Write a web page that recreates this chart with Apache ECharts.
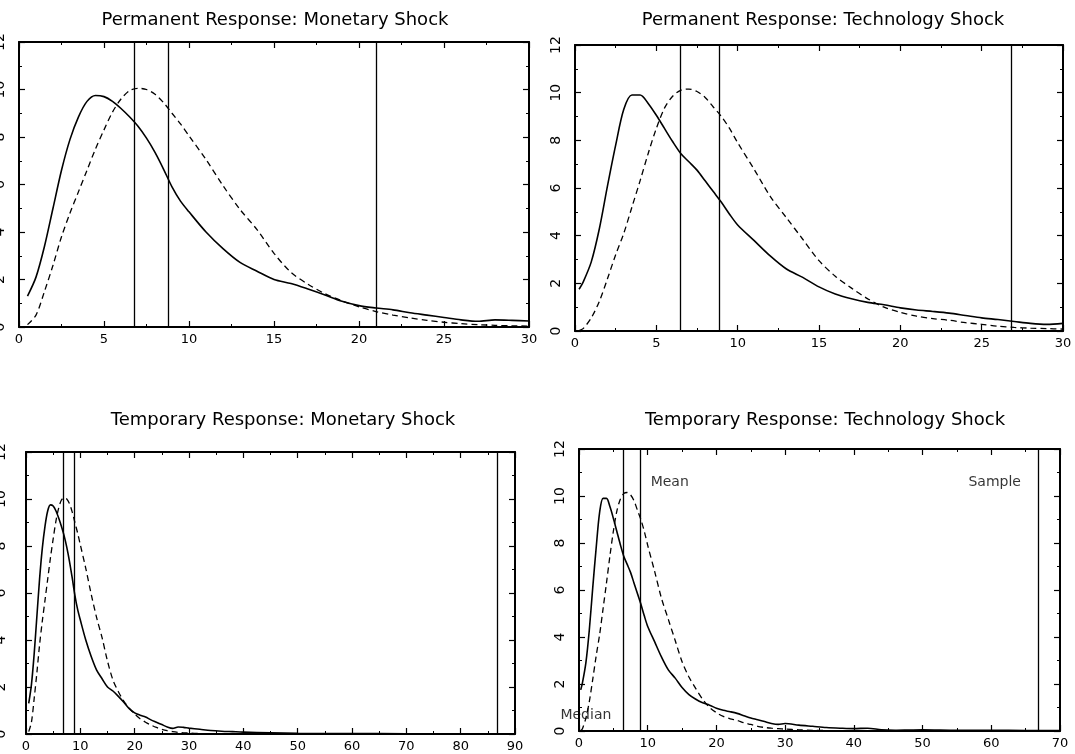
<!DOCTYPE html>
<html>
<head>
<meta charset="utf-8">
<script src="https://cdn.jsdelivr.net/npm/echarts@6/dist/echarts.min.js"></script>
<style>html,body{margin:0;padding:0;background:#fff}#main{width:1075px;height:754px}</style>
</head>
<body>
<div id="main"></div>
<script>
// monetary shock (panels 1 and 3)
var monX = [0.5, 1, 1.5, 2, 2.5, 3, 3.5, 4, 4.5, 5, 5.5, 6, 6.5, 7, 7.5, 8, 8.5, 9, 9.5, 10,
  11, 12, 13, 14, 15, 16, 17, 18, 19, 20, 21, 22, 23, 24, 25, 26, 27, 28, 29, 30];
var monSolid = [1.3, 2.1, 3.4, 5.0, 6.6, 7.9, 8.85, 9.5, 9.75, 9.7, 9.5, 9.2, 8.85, 8.45, 7.95, 7.35, 6.65, 5.9, 5.3, 4.85,
  4.0, 3.3, 2.72, 2.35, 2.0, 1.83, 1.6, 1.35, 1.08, 0.9, 0.8, 0.72, 0.6, 0.5, 0.4, 0.3, 0.24, 0.3, 0.28, 0.25];
var monDash = [0.1, 0.5, 1.5, 2.6, 3.8, 4.8, 5.7, 6.6, 7.5, 8.3, 9.05, 9.6, 9.95, 10.05, 10.0, 9.8, 9.45, 9.0, 8.55, 8.05,
  7.05, 5.95, 4.95, 4.1, 3.1, 2.3, 1.8, 1.4, 1.1, 0.85, 0.65, 0.5, 0.38, 0.28, 0.2, 0.14, 0.1, 0.07, 0.05, 0.04];
var monTailX = [32, 34, 36, 38, 40, 45, 50, 60, 70, 80, 90];
var monTailSolid = [0.2, 0.15, 0.12, 0.1, 0.08, 0.05, 0.03, 0.02, 0.01, 0.01, 0.0];
var monTailDash = [0.02, 0.01, 0.01, 0.0, 0.0, 0.0, 0.0, 0.0, 0.0, 0.0, 0.0];
var monLines = [6.8, 8.8];

// technology shock (panels 2 and 4)
var techX = [0.25, 0.5, 1, 1.5, 2, 2.5, 3, 3.5, 4, 4.5, 5, 5.5, 6, 6.5, 7, 7.5, 8, 8.5, 9, 9.5, 10,
  11, 12, 13, 14, 15, 16, 17, 18, 19, 20, 21, 22, 23, 24, 25, 26, 27, 28, 29, 30];
var techSolid = [1.75, 2.05, 2.9, 4.3, 6.1, 7.8, 9.3, 9.9, 9.9, 9.55, 9.05, 8.5, 7.95, 7.45, 7.1, 6.75, 6.3, 5.85, 5.4, 4.9, 4.45,
  3.8, 3.15, 2.6, 2.25, 1.85, 1.55, 1.35, 1.2, 1.1, 0.97, 0.88, 0.82, 0.75, 0.65, 0.55, 0.48, 0.4, 0.32, 0.28, 0.32];
var techDash = [0.02, 0.1, 0.55, 1.25, 2.2, 3.2, 4.1, 5.2, 6.3, 7.45, 8.5, 9.35, 9.85, 10.1, 10.15, 10.05, 9.8, 9.4, 9.0, 8.5, 7.9,
  6.8, 5.65, 4.75, 3.85, 2.95, 2.3, 1.8, 1.35, 1.0, 0.78, 0.62, 0.52, 0.45, 0.35, 0.28, 0.2, 0.15, 0.12, 0.1, 0.08];
var techTailX = [32, 34, 36, 38, 40, 42, 44, 46, 48, 50, 55, 60, 65, 70];
var techTailSolid = [0.25, 0.2, 0.15, 0.12, 0.1, 0.12, 0.05, 0.03, 0.04, 0.05, 0.03, 0.03, 0.02, 0.02];
var techTailDash = [0.05, 0.03, 0.02, 0.01, 0.01, 0.0, 0.0, 0.0, 0.0, 0.0, 0.0, 0.0, 0.0, 0.0];
var techLines = [6.5, 8.85];

// third vertical line in each panel
var sampleLine = [21.0, 26.8, 86.7, 66.8];

var titles = ['Permanent Response: Monetary Shock', 'Permanent Response: Technology Shock',
  'Temporary Response: Monetary Shock', 'Temporary Response: Technology Shock'];
var xMax = [30, 30, 90, 70];
var xStep = [5, 5, 10, 10];
var yTicks = [0, 2, 4, 6, 8, 10, 12];

var noteText = ['Mean', 'Sample', 'Median'];
var noteX = [13.2, 60.5, 1.0];
var noteY = [10.6, 10.6, 0.65];

var chart = echarts.init(document.getElementById('main'));

function pairs(xs, ys) {
  return xs.map(function (x, i) { return [x, ys[i]]; });
}

var font = 'DejaVu Sans';
var grids = [
  {left: 19, top: 42, width: 510, height: 285, outerBoundsMode: 'none'},
  {left: 575, top: 45, width: 488, height: 286, outerBoundsMode: 'none'},
  {left: 26, top: 452, width: 489, height: 282, outerBoundsMode: 'none'},
  {left: 579, top: 449, width: 481, height: 282, outerBoundsMode: 'none'}
];
var titlePos = [[270, 6], [818, 6], [278, 406], [820, 406]];
var yLabelMargin = [12, 12, 18, 12];

var tick = {inside: true, length: 6, lineStyle: {color: '#000', width: 1.2}};
var minor = {show: true, splitNumber: 2, length: 3, lineStyle: {color: '#000', width: 1}};
var line = {show: true, onZero: false, lineStyle: {color: '#000', width: 2}};

var xAxes = [], yAxes = [];
grids.forEach(function (g, i) {
  xAxes.push({
    gridIndex: i, type: 'value', min: 0, max: xMax[i], interval: xStep[i], position: 'bottom',
    axisLine: line, axisTick: tick, minorTick: minor, splitLine: {show: false},
    axisLabel: {color: '#000', fontFamily: font, fontSize: 13, margin: 6}
  });
  xAxes.push({
    gridIndex: i, type: 'value', min: 0, max: xMax[i], interval: xStep[i], position: 'top',
    axisLine: line, axisTick: tick, minorTick: minor, splitLine: {show: false}, axisLabel: {show: false}
  });
  yAxes.push({
    gridIndex: i, type: 'value', min: 0, max: 12, interval: 2, position: 'left',
    axisLine: line, axisTick: tick, minorTick: minor, splitLine: {show: false},
    axisLabel: {color: '#000', fontFamily: font, fontSize: 14, rotate: 90, margin: yLabelMargin[i],
      formatter: function (v) { return yTicks.indexOf(v) >= 0 ? String(v) : ''; }}
  });
  yAxes.push({
    gridIndex: i, type: 'value', min: 0, max: 12, interval: 2, position: 'right',
    axisLine: line, axisTick: tick, minorTick: minor, splitLine: {show: false}, axisLabel: {show: false}
  });
});

var panelData = [
  [pairs(monX, monSolid), pairs(monX, monDash), monLines],
  [pairs(techX, techSolid), pairs(techX, techDash), techLines],
  [pairs(monX.concat(monTailX), monSolid.concat(monTailSolid)), pairs(monX.concat(monTailX), monDash.concat(monTailDash)), monLines],
  [pairs(techX.concat(techTailX), techSolid.concat(techTailSolid)), pairs(techX.concat(techTailX), techDash.concat(techTailDash)), techLines]
];

var series = [];
panelData.forEach(function (p, i) {
  var vlines = p[2].concat([sampleLine[i]]);
  series.push({
    type: 'line', xAxisIndex: 2 * i, yAxisIndex: 2 * i, data: p[0], showSymbol: false, smooth: 0.3,
    lineStyle: {color: '#000', width: 1.6},
    markLine: {
      silent: true, symbol: 'none', label: {show: false},
      lineStyle: {color: '#000', width: 1.3, type: 'solid'},
      data: vlines.map(function (v) { return {xAxis: v}; })
    }
  });
  series.push({
    type: 'line', xAxisIndex: 2 * i, yAxisIndex: 2 * i, data: p[1], showSymbol: false, smooth: 0.3,
    lineStyle: {color: '#000', width: 1.3, type: [6, 4]}
  });
});

series.push({
  type: 'scatter', xAxisIndex: 6, yAxisIndex: 6, symbolSize: 0, clip: false,
  data: noteText.map(function (t, i) { return [noteX[i], noteY[i], t]; }),
  label: {show: true, position: 'inside', color: '#000', fontFamily: font, fontSize: 14,
    formatter: function (p) { return p.value[2]; }}
});

chart.setOption({
  animation: false,
  backgroundColor: '#fff',
  title: titles.map(function (t, i) {
    return {text: t, left: titlePos[i][0], top: titlePos[i][1], textAlign: 'center',
      textStyle: {color: '#000', fontFamily: font, fontSize: 18, fontWeight: 'normal'}};
  }),
  grid: grids,
  xAxis: xAxes,
  yAxis: yAxes,
  series: series
});
</script>
</body>
</html>
